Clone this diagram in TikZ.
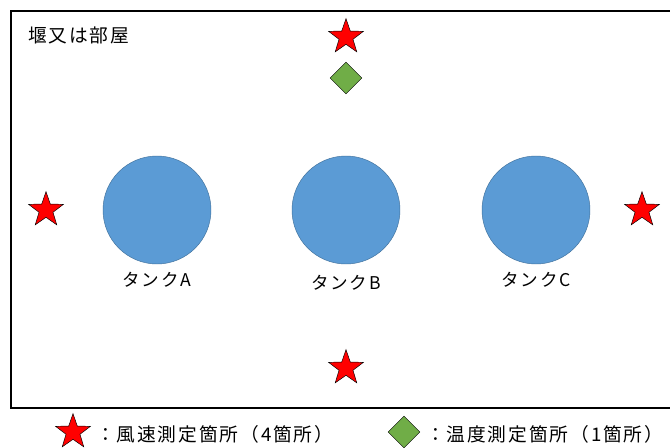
\documentclass[tikz,border=0pt]{standalone}
\usepackage{fontspec}
\setmainfont{Noto Sans CJK JP}[LetterSpace=10]
\usepackage{tikz}
\usetikzlibrary{shapes.geometric,positioning}

\definecolor{tankfill}{HTML}{5B9BD5}
\definecolor{tankline}{HTML}{41719C}
\definecolor{diamondfill}{HTML}{70AD47}

\begin{document}
\begin{tikzpicture}[
    x=0.03cm, y=-0.03cm,
    tank/.style={circle, draw=tankline, fill=tankfill, minimum size=3.24cm, inner sep=0pt, thin},
    tanklabel/.style={font=\fontsize{15pt}{17pt}\selectfont},
    windpt/.style={star, star points=5, star point ratio=2.5, draw=black, fill=red, minimum size=1.1cm, inner sep=0pt, thin},
    temppt/.style={diamond, draw=black, fill=diamondfill, minimum width=0.96cm, minimum height=0.96cm, inner sep=0pt, thin},
    legendtext/.style={anchor=west, font=\fontsize{16pt}{18pt}\selectfont}
]
    \useasboundingbox (0,0) rectangle (670,448);

    % Room frame
    \begin{scope}
        \clip (0,0) rectangle (670,448);
        \draw[line width=1.5pt] (11,11) rectangle (680,408);
    \end{scope}
    \node[anchor=west, font=\fontsize{16pt}{18pt}\selectfont] (room) at (24,35) {堰又は部屋};

    % Tanks
    \node[tank] (tankA) at (157,210) {};
    \node[tank] (tankB) at (346,210) {};
    \node[tank] (tankC) at (536,210) {};
    \node[tanklabel] (labA) at (157,280) {タンクA};
    \node[tanklabel] (labB) at (346,283) {タンクB};
    \node[tanklabel] (labC) at (536,280) {タンクC};

    % Measuring points
    \node[windpt] (windN) at (346,37) {};
    \node[windpt] (windW) at (46,210) {};
    \node[windpt] (windE) at (642,210) {};
    \node[windpt] (windS) at (346,368) {};
    \node[temppt] (temp) at (346,78) {};

    % Legend
    \node[windpt] (keyWind) at (73,432) {};
    \node[legendtext] (keyWindText) at (92,434) {：風速測定箇所（4箇所）};
    \node[temppt] (keyTemp) at (404,432) {};
    \node[legendtext] (keyTempText) at (422,434) {：温度測定箇所（1箇所）};
\end{tikzpicture}
\end{document}
